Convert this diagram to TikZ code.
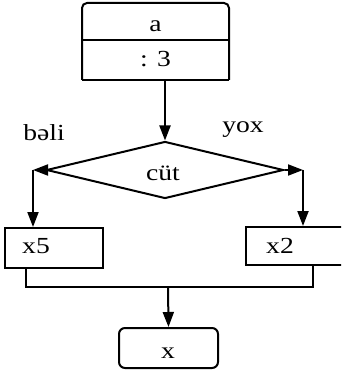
\documentclass[tikz,border=0pt]{standalone}
\usepackage{fontspec}
\setmainfont[FakeStretch=1.2]{Liberation Serif}
\usetikzlibrary{shapes.geometric,arrows.meta}
\begin{document}
\begin{tikzpicture}[x=1pt,y=-1pt,
  line width=2pt,
  every node/.style={font=\fontsize{23}{27}\selectfont, inner sep=0pt},
  flow/.style={-{Triangle[length=15pt,width=11pt]}},
  box/.style={draw, rectangle},
  cond/.style={draw, diamond, minimum width=237pt, minimum height=57pt}]
\useasboundingbox (0,0) rectangle (341,371);
\clip (0,0) rectangle (341,371);

% input block: a, then division by 3
\node (top) [minimum width=145pt, minimum height=75pt] at (155.5,41.5) {};
\draw[rounded corners=5pt] (top.south west) -- (top.north west)
  -- (top.north east) -- (top.south east);
\draw (top.south east) -- (top.south west);
\coordinate (div) at (0,40);
\draw (top.west |- div) -- (top.east |- div);
\node (ta) [anchor=base] at (155.5,32) {a};
\node (t3) [anchor=base] at (155.5,67) {: 3};

% decision
\node (c) [cond] at (165,170) {};
\node (ct) [anchor=base] at (163,180) {cüt};
\draw[flow] (top.south -| c.north) -- (c.north);
\node (yes) [anchor=base] at (44,141) {bəli};
\node (no) [anchor=base] at (243,133) {yox};

% branches
\node (x5) [box, minimum width=98pt, minimum height=40pt] at (54,248) {};
\node (x5t) [anchor=base] at (36,253) {x5};
\node (x2) [box, minimum width=108pt, minimum height=38pt] at (300,246) {};
\node (x2t) [anchor=base] at (280,253) {x2};

\coordinate (cl) at (33,170);
\coordinate (cr) at (303,170);
\draw[flow] (c.west) -- (cl);
\draw[flow] (cl) -- (cl |- x5.north);
\draw[flow] (c.east) -- (cr);
\draw[flow] (cr) -- (cr |- x2.north);

% merge and result
\coordinate (ml) at (26,287);
\coordinate (mr) at (313,287);
\coordinate (mm) at (168,287);
\draw (ml |- x5.south) -- (ml) -- (mr) -- (mr |- x2.south);
\node (res) [box, rounded corners=6pt, minimum width=99pt, minimum height=40pt] at (168.5,348) {};
\node (rest) [anchor=base] at (168,358) {x};
\draw[flow] (mm) -- (res.north);
\end{tikzpicture}
\end{document}
